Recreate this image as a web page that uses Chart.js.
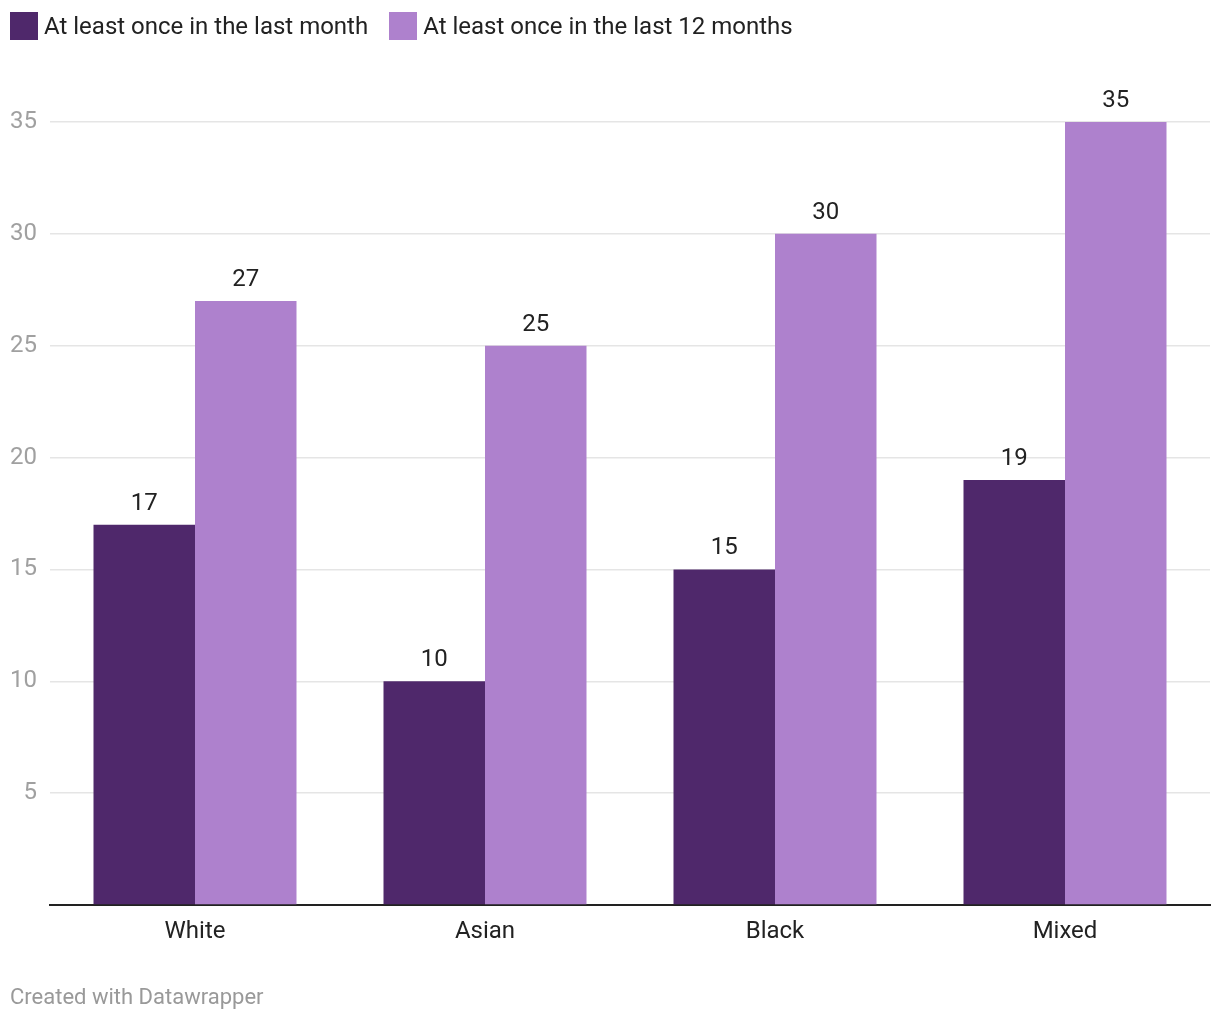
<!DOCTYPE html>
<html>
<head>
<meta charset="utf-8">
<script src="https://cdn.jsdelivr.net/npm/chart.js@4"></script>
<style>
    body { margin: 0; background: #fff; font-family: Roboto, sans-serif; }
    #wrap { position: relative; width: 1220px; height: 1020px; }
    #chart { position: absolute; left: 0; top: 0; }
    #legend { position: absolute; left: 10px; top: 12px; display: flex; align-items: center; }
    .item { display: flex; align-items: center; margin-right: 21px; font-size: 24px; color: #222; }
    .swatch { width: 28px; height: 28px; margin-right: 6px; }
    #footer { position: absolute; left: 10px; top: 984px; font-size: 22px; color: #999; }
</style>
</head>
<body>
<div id="wrap">
    <canvas id="chart" width="1220" height="1020"></canvas>
    <div id="legend"></div>
    <div id="footer">Created with Datawrapper</div>
</div>
<script>
const categories = ["White", "Asian", "Black", "Mixed"];
const seriesNames = ["At least once in the last month", "At least once in the last 12 months"];
const lastMonth = [17, 10, 15, 19];
const last12Months = [27, 25, 30, 35];
const colors = ["#4f286b", "#ae81cd"];

// legend in html
const legend = document.getElementById("legend");
seriesNames.forEach((name, i) => {
    legend.innerHTML += `<div class="item"><div class="swatch" style="background:${colors[i]}"></div>${name}</div>`;
});

// value labels above bars
const valueLabels = {
    id: "valueLabels",
    afterDatasetsDraw(chart) {
        const ctx = chart.ctx;
        ctx.save();
        ctx.font = "24px Roboto";
        ctx.fillStyle = "#222";
        ctx.textAlign = "center";
        ctx.textBaseline = "middle";
        chart.data.datasets.forEach((ds, i) => {
            chart.getDatasetMeta(i).data.forEach((bar, j) => {
                ctx.fillText(ds.data[j], bar.x, bar.y - 21);
            });
        });
        ctx.restore();
    }
};

new Chart(document.getElementById("chart"), {
    type: "bar",
    data: {
        labels: categories,
        datasets: [
            { label: seriesNames[0], data: lastMonth, backgroundColor: colors[0] },
            { label: seriesNames[1], data: last12Months, backgroundColor: colors[1] }
        ]
    },
    options: {
        responsive: false,
        animation: false,
        layout: { padding: { left: 10, right: 10, top: 122, bottom: 75 } },
        datasets: { bar: { categoryPercentage: 0.7, barPercentage: 1.0 } },
        plugins: {
            legend: { display: false },
            tooltip: { enabled: false }
        },
        scales: {
            x: {
                afterFit: s => { s.height = 40; },
                grid: { display: false },
                border: { display: true, color: "#222", width: 2 },
                ticks: { font: { family: "Roboto", size: 24 }, color: "#222", padding: 5 }
            },
            y: {
                min: 0,
                max: 35,
                afterFit: s => { s.width = 40; },
                border: { display: false },
                grid: {
                    drawTicks: false,
                    color: c => c.tick.value === 0 ? "rgba(0,0,0,0)" : "#e5e5e5",
                    lineWidth: 1.5
                },
                ticks: {
                    stepSize: 5,
                    padding: 13,
                    font: { family: "Roboto", size: 24 },
                    color: "#a0a0a0",
                    callback: v => v === 0 ? "" : v
                }
            }
        }
    },
    plugins: [valueLabels]
});
</script>
</body>
</html>
